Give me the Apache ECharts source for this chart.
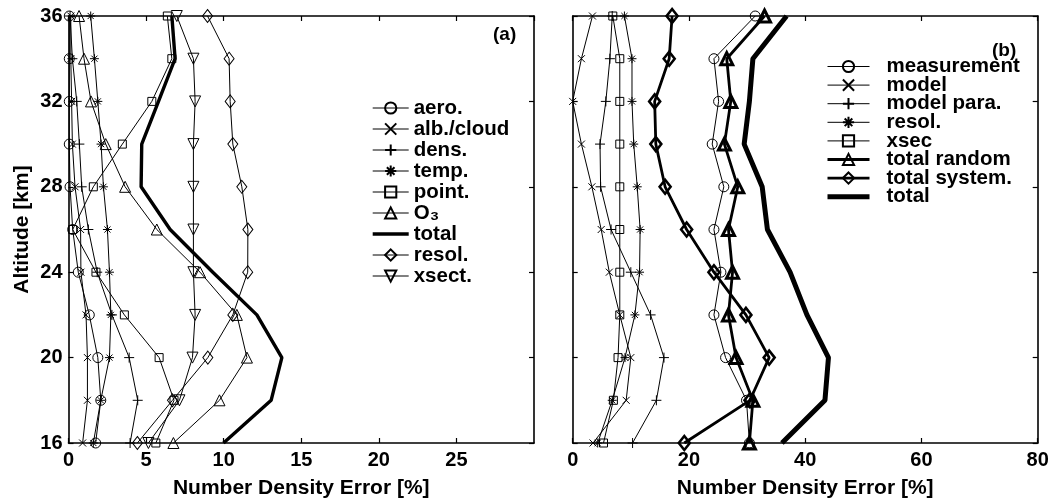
<!DOCTYPE html>
<html><head><meta charset="utf-8">
<script src="https://cdn.jsdelivr.net/npm/echarts@6/dist/echarts.min.js"></script>
<style>html,body{margin:0;padding:0;background:#fff}#c{width:1051px;height:500px}</style>
</head><body><div id="c"></div>
<script>
// ---------- data ----------
const altitudes = [16, 18, 20, 22, 24, 26, 28, 30, 32, 34, 36];

// panel (a)
const aero      = [1.75, 2.08, 1.89, 1.34, 0.63, 0.27, 0.10, 0.05, 0.05, 0.05, 0.05];
const albCloud  = [0.91, 1.22, 1.22, 1.13, 0.80, 0.78, 0.42, 0.25, 0.20, 0.15, 0.15];
const dens      = [3.97, 4.46, 3.91, 2.80, 1.85, 1.28, 0.85, 0.70, 0.53, 0.25, 0.10];
const temp      = [1.60, 2.08, 2.64, 2.73, 2.64, 2.51, 2.25, 2.10, 1.89, 1.67, 1.43];
const point     = [5.63, 6.80, 5.84, 3.60, 1.77, 0.27, 1.60, 3.47, 5.37, 6.66, 6.37];
const o3        = [6.76, 9.73, 11.50, 10.85, 8.48, 5.69, 3.65, 2.40, 1.45, 1.00, 0.68];
const totalA    = [9.99, 13.06, 13.75, 12.14, 9.30, 6.55, 4.68, 4.72, 5.80, 6.87, 6.66];
const resolA    = [4.44, 6.70, 8.98, 10.59, 11.55, 11.56, 11.17, 10.59, 10.42, 10.35, 8.96];
const xsect     = [5.15, 7.15, 7.99, 8.16, 8.05, 8.05, 8.05, 8.05, 8.16, 8.05, 6.98];

// panel (b)
const measurement  = [30.4, 29.9, 26.3, 24.3, 25.5, 24.3, 26.0, 24.0, 25.1, 24.3, 31.4];
const model        = [3.5, 9.2, 10.0, 8.1, 6.3, 4.9, 3.3, 1.5, 0.0, 1.5, 3.4];
const modelPara    = [10.3, 14.4, 15.7, 13.4, 10.0, 6.6, 4.8, 4.7, 5.7, 6.4, 6.8];
const resolB       = [4.3, 6.8, 9.0, 10.7, 11.5, 11.6, 11.1, 10.5, 10.2, 10.2, 8.9];
const xsec         = [5.3, 7.0, 7.8, 8.1, 8.1, 8.1, 8.1, 8.1, 8.1, 8.1, 6.9];
const totalRandom  = [30.4, 31.0, 28.1, 26.8, 27.5, 26.8, 28.4, 26.1, 27.2, 26.5, 33.0];
const totalSystem  = [19.2, 30.5, 33.8, 29.8, 24.3, 19.6, 15.9, 14.3, 14.1, 16.6, 17.1];
const totalB       = [36.0, 43.4, 44.0, 40.3, 37.4, 33.5, 32.6, 29.5, 30.4, 31.0, 36.8];

const xTicksA = {min: 0, max: 30, interval: 5};
const xTicksB = {min: 0, max: 80, interval: 20};
const yTicks  = {min: 16, max: 36, interval: 4};

const legendA = ['aero.', 'alb./cloud', 'dens.', 'temp.', 'point.', 'O3', 'total', 'resol.', 'xsect.'];
const legendB = ['measurement', 'model', 'model para.', 'b:resol.', 'xsec', 'total random', 'total system.', 'b:total'];
const lineOnlyNames = ['total', 'b:total'];

// ---------- styling ----------
const FONT = '"Liberation Sans", Arial, Helvetica, sans-serif';
const SYM_X = 'path://M0,0L10,10M0,10L10,0';
const SYM_PLUS = 'path://M5,0L5,10M0,5L10,5';
const SYM_STAR = 'path://M5,0L5,10M0,5L10,5M1.6,1.6L8.4,8.4M1.6,8.4L8.4,1.6';

function mk(name, vals, g, o) {
  return {
    type: 'line', name: name, xAxisIndex: g * 2, yAxisIndex: g * 2,
    data: vals.map((v, i) => [v, altitudes[i]]),
    symbol: o.symbol || 'none', symbolSize: o.size || 9, symbolRotate: o.rotate || 0,
    showSymbol: o.symbol ? true : false,
    lineStyle: {color: '#000', width: o.lw || 1},
    itemStyle: {color: 'rgba(0,0,0,0)', borderColor: '#000', borderWidth: o.bw || 1},
    emphasis: {disabled: true}, silent: true, animation: false, z: o.z || 2
  };
}

function xAx(g, t, pos) {
  const bottom = pos === 'bottom';
  return {
    type: 'value', gridIndex: g, min: t.min, max: t.max, interval: t.interval, position: pos,
    axisLine: {show: true, onZero: false, lineStyle: {color: '#000', width: 1.6}},
    axisTick: {show: true, inside: true, length: 5, lineStyle: {color: '#000', width: 1.2}},
    axisLabel: {show: bottom, color: '#000', fontSize: 20, fontWeight: 'bold', fontFamily: FONT,
                margin: 7, showMaxLabel: g === 1, showMinLabel: true},
    splitLine: {show: false},
    name: bottom ? 'Number Density Error [%]' : '', nameLocation: 'middle', nameGap: 35,
    nameTextStyle: {color: '#000', fontSize: 21, fontWeight: 'bold', fontFamily: FONT}
  };
}
function yAx(g, pos) {
  const lab = g === 0 && pos === 'left';
  return {
    type: 'value', gridIndex: g, min: yTicks.min, max: yTicks.max, interval: yTicks.interval, position: pos,
    axisLine: {show: true, onZero: false, lineStyle: {color: '#000', width: 1.6}},
    axisTick: {show: true, inside: true, length: 5, lineStyle: {color: '#000', width: 1.2}},
    axisLabel: {show: lab, color: '#000', fontSize: 20, fontWeight: 'bold', fontFamily: FONT, margin: 6},
    splitLine: {show: false},
    name: lab ? 'Altitude [km]' : '', nameLocation: 'middle', nameGap: 36, nameRotate: 90,
    nameTextStyle: {color: '#000', fontSize: 21, fontWeight: 'bold', fontFamily: FONT}
  };
}

const series = [
  mk('aero.', aero, 0, {symbol: 'circle', size: 10}),
  mk('alb./cloud', albCloud, 0, {symbol: SYM_X, size: 7}),
  mk('dens.', dens, 0, {symbol: SYM_PLUS, size: 10}),
  mk('temp.', temp, 0, {symbol: SYM_STAR, size: 9}),
  mk('point.', point, 0, {symbol: 'rect', size: 8}),
  mk('O3', o3, 0, {symbol: 'triangle', size: 11}),
  mk('total', totalA, 0, {lw: 3.4, z: 3}),
  mk('resol.', resolA, 0, {symbol: 'diamond', size: [10, 13]}),
  mk('xsect.', xsect, 0, {symbol: 'triangle', size: 11, rotate: 180}),

  mk('measurement', measurement, 1, {symbol: 'circle', size: 10}),
  mk('model', model, 1, {symbol: SYM_X, size: 7}),
  mk('model para.', modelPara, 1, {symbol: SYM_PLUS, size: 10}),
  mk('b:resol.', resolB, 1, {symbol: SYM_STAR, size: 9}),
  mk('xsec', xsec, 1, {symbol: 'rect', size: 8}),
  mk('total random', totalRandom, 1, {symbol: 'triangle', size: 12, lw: 2.8, bw: 3, z: 3}),
  mk('total system.', totalSystem, 1, {symbol: 'diamond', size: [11, 14], lw: 2.8, bw: 2.6, z: 3}),
  mk('b:total', totalB, 1, {lw: 5, z: 3})
];

function legend(names, left, top, gap, itemW, padLeft) {
  return {
    data: names.map(n => lineOnlyNames.indexOf(n) >= 0
      ? {name: n, itemStyle: {opacity: 0, borderWidth: 0, color: 'rgba(0,0,0,0)', borderColor: 'rgba(0,0,0,0)'}}
      : {name: n}),
    orient: 'vertical', left: left, top: top, padding: 0, itemGap: gap,
    itemWidth: itemW, itemHeight: 14, selectedMode: false,
    lineStyle: {width: 'inherit'},
    formatter: n => n === 'O3' ? 'O\u2083' : n.replace(/^b:/, ''),
    textStyle: {color: '#000', fontSize: 20.5, fontWeight: 'bold', fontFamily: FONT, lineHeight: 14,
                padding: [0, 0, 0, padLeft]}
  };
}

const option = {
  animation: false,
  backgroundColor: '#fff',
  grid: [
    {left: 68.5, top: 16, width: 465.5, height: 427, outerBoundsMode: 'none', containLabel: false},
    {left: 572.7, top: 16, width: 465, height: 427, outerBoundsMode: 'none', containLabel: false}
  ],
  xAxis: [xAx(0, xTicksA, 'bottom'), xAx(0, xTicksA, 'top'), xAx(1, xTicksB, 'bottom'), xAx(1, xTicksB, 'top')],
  yAxis: [yAx(0, 'left'), yAx(0, 'right'), yAx(1, 'left'), yAx(1, 'right')],
  legend: [
    legend(legendA, 371, 97.5, 0, 36, 0),
    legend(legendB, 825, 56, -2.4, 42, 12)
  ],
  title: [
    {text: '(a)', left: 493, top: 25, padding: 0,
     textStyle: {color: '#000', fontSize: 19, fontWeight: 'bold', fontFamily: FONT}},
    {text: '(b)', left: 992, top: 41, padding: 0,
     textStyle: {color: '#000', fontSize: 19, fontWeight: 'bold', fontFamily: FONT}}
  ],
  series: series
};

const chart = echarts.init(document.getElementById('c'), null, {renderer: 'canvas'});
chart.setOption(option);
</script>
</body></html>
